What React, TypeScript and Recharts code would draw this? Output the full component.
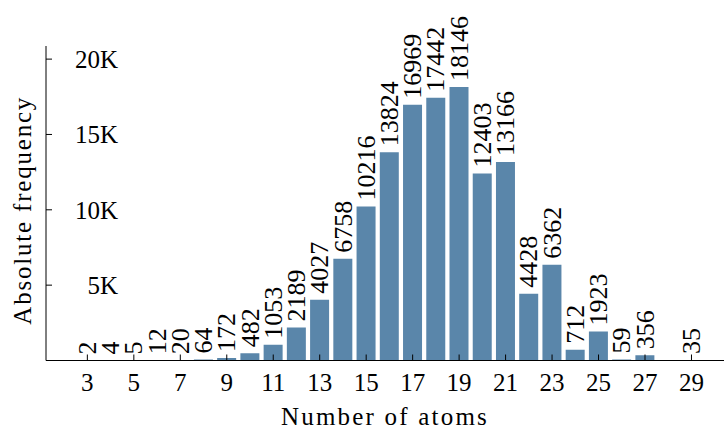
import React from "react";
import { BarChart, Bar, XAxis, YAxis, LabelList, Label } from "recharts";

// Number of atoms per molecule and how often each occurs
const atomCounts = [3, 4, 5, 6, 7, 8, 9, 10, 11, 12, 13, 14, 15, 16, 17, 18, 19, 20, 21, 22, 23, 24, 25, 26, 27, 28, 29];
const frequencies: (number | null)[] = [
  2, 4, 5, 12, 20, 64, 172, 482, 1053, 2189, 4027, 6758, 10216, 13824, 16969, 17442, 18146,
  12403, 13166, 4428, 6362, 712, 1923, 59, 356, null, 35,
];
const xTicks = [3, 5, 7, 9, 11, 13, 15, 17, 19, 21, 23, 25, 27, 29];
const yTicks = [5000, 10000, 15000, 20000];

const data = atomCounts.map((atoms, i) => ({ atoms, count: frequencies[i] }));

const FONT = "Liberation Serif, DejaVu Serif, serif";
const BAR_COLOR = "#5a86aa";

const formatK = (v: number) => `${v / 1000}K`;

// Value written vertically just above each bar
const BarValue = (props: any) => {
  const { x, y, width, value } = props;
  if (value === null || value === undefined) return null;
  const cx = Number(x) + Number(width) / 2;
  const top = Number(y) - 6;
  return (
    <g transform={`translate(${cx + 8.7} ${top}) rotate(-90)`}>
      <text x={0} y={0} textAnchor="start" style={{ fontFamily: FONT }} fontSize={26} fill="#000">
        {value}
      </text>
    </g>
  );
};

const YTitle = (props: any) => {
  const vb = props.viewBox || {};
  const x = Number(vb.x) + 31;
  const y = Number(vb.y) + Number(vb.height) / 2 + 7;
  return (
    <g transform={`translate(${x} ${y}) rotate(-90)`}>
      <text x={0} y={0} textAnchor="middle" style={{ fontFamily: FONT }} fontSize={25} fill="#000" letterSpacing={1.8}>
        Absolute frequency
      </text>
    </g>
  );
};

export default function App() {
  return (
    <div style={{ position: "fixed", left: 0, top: 0, background: "#fff", fontFamily: FONT }}>
      <BarChart
        width={725}
        height={428}
        data={data}
        margin={{ top: 46, right: 1, bottom: 0.5, left: 0 }}
        style={{ fontFamily: FONT }}
      >
        <XAxis
          dataKey="atoms"
          type="number"
          domain={[1.22, 30.4]}
          ticks={xTicks}
          allowDataOverflow
          height={67}
          stroke="#000"
          tickSize={-6}
          tickMargin={18.5}
          tick={{ fill: "#000", fontFamily: FONT, fontSize: 25 }}
        >
          <Label
            value="Number of atoms"
            position="insideBottom"
            offset={3}
            fill="#000"
            fontFamily={FONT}
            fontSize={25}
            letterSpacing={2.2}
          />
        </XAxis>
        <YAxis
          type="number"
          domain={[0, 20870]}
          ticks={yTicks}
          allowDataOverflow
          width={46}
          stroke="#000"
          tickSize={-6}
          tickMargin={-66}
          tickFormatter={formatK}
          tick={{ fill: "#000", fontFamily: FONT, fontSize: 25 }}
        >
          <Label content={<YTitle />} />
        </YAxis>
        <Bar dataKey="count" fill={BAR_COLOR} barSize={19} isAnimationActive={false}>
          <LabelList dataKey="count" content={<BarValue />} />
        </Bar>
      </BarChart>
    </div>
  );
}
